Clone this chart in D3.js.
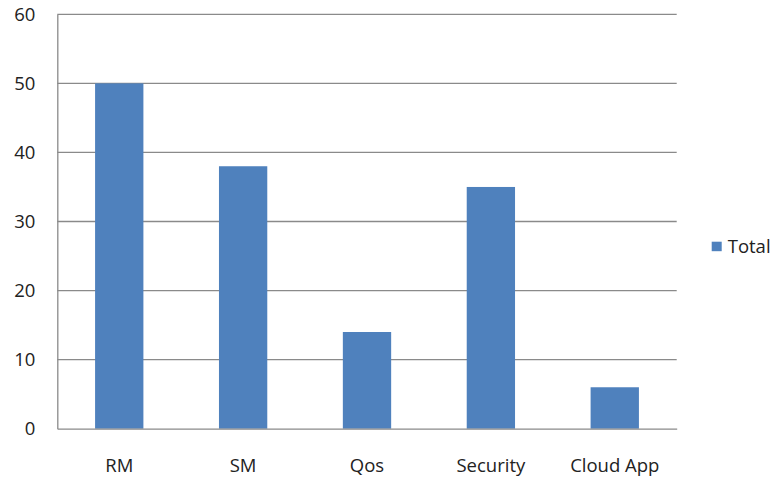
<!DOCTYPE html>
<html><head><meta charset="utf-8">
<script src="https://cdn.jsdelivr.net/npm/d3@7"></script>
<style>body{margin:0;background:#fff}svg{display:block}</style>
</head><body>
<svg id="c" width="773" height="480"></svg>
<script>
const categories = ["RM", "SM", "Qos", "Security", "Cloud App"];
const totals = [50, 38, 14, 35, 6];
const yTicks = [0, 10, 20, 30, 40, 50, 60];
const seriesName = "Total";

const svg = d3.select("#c");
const m = {l: 57.3, r: 676.7, t: 14.3, b: 428.7};
const font = "'Open Sans', sans-serif";
const fs = 18.5;
const x = d3.scaleBand().domain(categories).range([m.l, m.r]).paddingInner(0.61).paddingOuter(0.305);
const y = d3.scaleLinear().domain([0, 60]).range([m.b, m.t]);

const grid = svg.append("g");
grid.selectAll("line").data(yTicks.filter(d => d > 0)).join("line")
  .attr("x1", m.l).attr("x2", m.r)
  .attr("y1", d => y(d)).attr("y2", d => y(d))
  .attr("stroke", "#8a8a8a").attr("stroke-width", 1.3);

svg.append("g").selectAll("rect").data(totals).join("rect")
  .attr("x", (d, i) => x(categories[i]))
  .attr("width", x.bandwidth())
  .attr("y", d => y(d))
  .attr("height", d => y(0) - y(d))
  .attr("fill", "#4F81BD");

const yAxis = svg.append("g").attr("transform", `translate(${m.l},0)`)
  .call(d3.axisLeft(y).tickValues(yTicks).tickSize(0).tickPadding(22));
yAxis.select(".domain").attr("stroke", "#8a8a8a").attr("stroke-width", 1.3);
yAxis.selectAll("text").attr("font-family", font).attr("font-size", fs).attr("fill", "#222");

const xAxis = svg.append("g").attr("transform", `translate(0,${m.b})`)
  .call(d3.axisBottom(x).tickSize(0).tickPadding(30));
xAxis.select(".domain").attr("stroke", "#8a8a8a").attr("stroke-width", 1.3);
xAxis.selectAll("text").attr("font-family", font).attr("font-size", fs).attr("fill", "#222");

const lg = svg.append("g").attr("transform", "translate(711.7,241.7)");
lg.append("rect").attr("width", 10).attr("height", 9.5).attr("fill", "#4F81BD");
lg.append("text").attr("x", 16).attr("y", 11).text(seriesName)
  .attr("font-family", font).attr("font-size", fs).attr("fill", "#222");
</script>
</body></html>
